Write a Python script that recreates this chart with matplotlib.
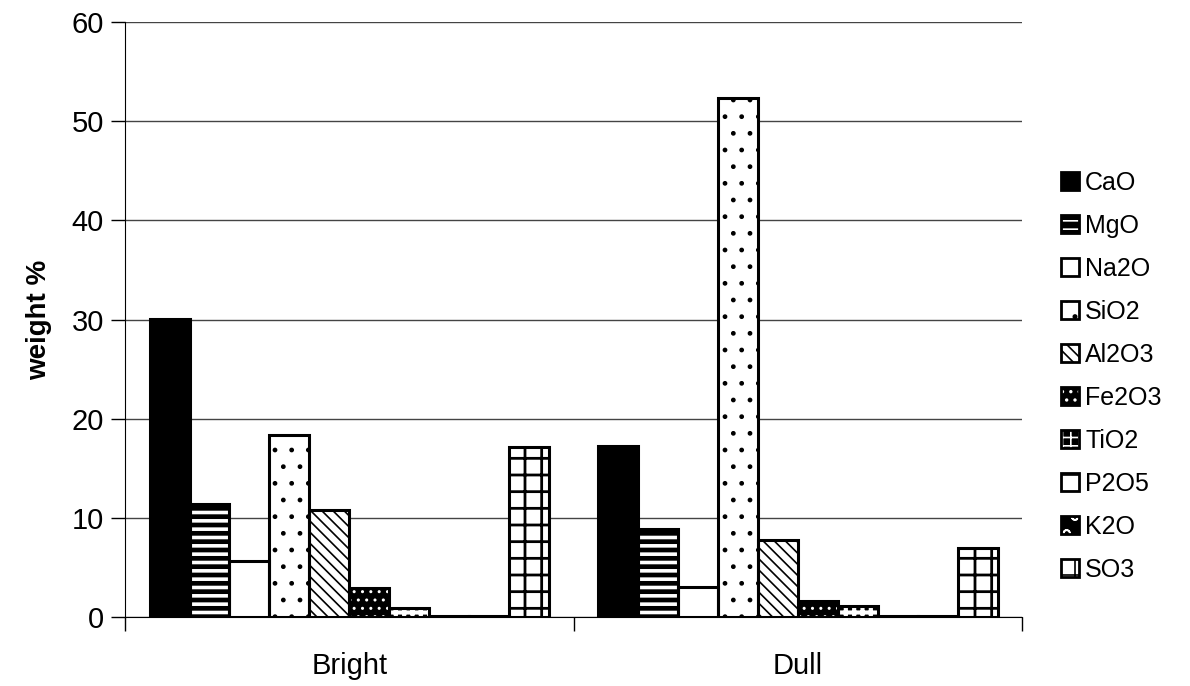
import matplotlib.pyplot as plt
from matplotlib.patches import Patch
import numpy as np

plt.rcParams['font.family'] = ['Liberation Sans', 'DejaVu Sans']
plt.rcParams['hatch.linewidth'] = 1.2

groups = ["Bright", "Dull"]
oxides = ["CaO", "MgO", "Na2O", "SiO2", "Al2O3", "Fe2O3", "TiO2", "P2O5", "K2O", "SO3"]
bright = [30.1, 11.4, 5.7, 18.4, 10.8, 3.0, 0.9, 0.1, 0.1, 17.2]
dull = [17.3, 8.9, 3.1, 52.3, 7.8, 1.7, 1.1, 0.1, 0.1, 7.0]

# face colour, hatch colour, hatch pattern, hatch width for each oxide
styles = {
    "CaO":   ("black", "black", None, 1.0),
    "MgO":   ("black", "white", "--", 2.6),
    "Na2O":  ("white", "black", None, 1.0),
    "SiO2":  ("white", "black", ".", 1.0),
    "Al2O3": ("white", "black", "\\\\\\", 1.2),
    "Fe2O3": ("black", "white", "..", 1.0),
    "TiO2":  ("black", "white", "++", 3.0),
    "P2O5":  ("white", "black", "-", 1.5),
    "K2O":   ("black", "white", "o", 1.5),
    "SO3":   ("white", "black", "+", 2.0),
}


def set_hlw(artists, lw):
    for a in artists:
        if hasattr(a, "set_hatch_linewidth"):
            a.set_hatch_linewidth(lw)


fig = plt.figure(figsize=(11.9, 6.86), dpi=100)
ax = fig.add_axes([0.105, 0.100, 0.754, 0.868])

x = np.arange(len(groups)) + 0.5
w = 0.089
for i, name in enumerate(oxides):
    vals = [bright[i], dull[i]]
    pos = x + (i - 4.5) * w
    face, hcol, hatch, hlw = styles[name]
    with plt.rc_context({"hatch.linewidth": hlw}):
        bars = ax.bar(pos, vals, w, color=face, edgecolor=hcol, linewidth=0,
                      hatch=hatch, zorder=2)
    set_hlw(bars, hlw)
    ax.bar(pos, vals, w, fill=False, edgecolor="black", linewidth=2.2,
           zorder=3)

ax.set_xlim(0, 2)
ax.set_ylim(0, 60)
ax.set_yticks(range(0, 61, 10))
ax.yaxis.grid(True, color="#444444", linewidth=1.0, zorder=0)
ax.set_axisbelow(True)

ax.set_xticks([0, 1, 2])
ax.set_xticklabels([])
ax.set_xticks(x, minor=True)
ax.set_xticklabels(groups, minor=True)
ax.tick_params(axis="x", which="minor", length=0, pad=25, labelsize=21)
ax.tick_params(axis="x", which="major", length=10, width=1, direction="out")
ax.tick_params(axis="y", length=10, width=1, labelsize=21, pad=5)

ax.spines["top"].set_visible(False)
ax.spines["right"].set_visible(False)
ax.set_ylabel("weight %", fontsize=20, fontweight="bold", labelpad=14)

handles = []
for name in oxides:
    face, hcol, hatch, hlw = styles[name]
    with plt.rc_context({"hatch.linewidth": min(hlw, 1.5)}):
        inner = Patch(facecolor=face, edgecolor=hcol, hatch=hatch, linewidth=0)
    set_hlw([inner], min(hlw, 1.5))
    outer = Patch(fill=False, edgecolor="black", linewidth=2.0)
    handles.append((inner, outer))
ax.legend(handles=handles, labels=oxides, loc="center left",
          bbox_to_anchor=(1.043, 0.405), borderaxespad=0, borderpad=0,
          frameon=False, fontsize=18, handlelength=0.72, handleheight=0.72,
          handletextpad=0.25, labelspacing=0.76)

fig.savefig("out.png", dpi=100, facecolor="white")
